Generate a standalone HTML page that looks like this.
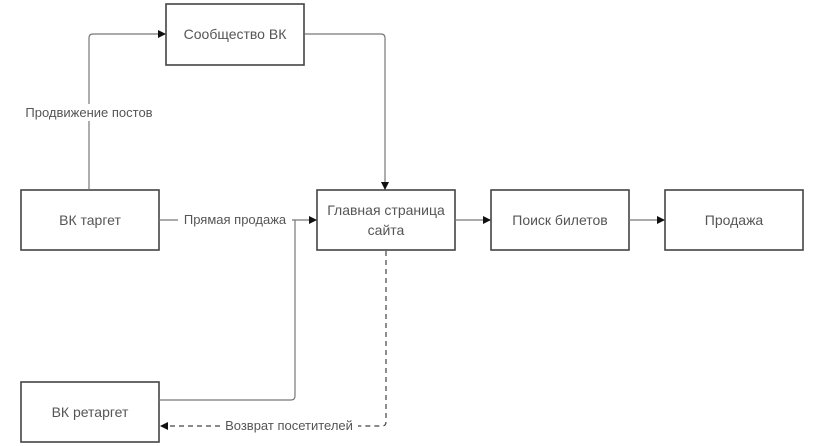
<!DOCTYPE html>
<html><head><meta charset="utf-8"><style>
html,body{margin:0;padding:0;background:#fff;}
svg{display:block;}
text{font-family:"Liberation Sans","DejaVu Sans",sans-serif;fill:#555;}
</style></head><body>
<svg width="822" height="446" viewBox="0 0 822 446" xmlns="http://www.w3.org/2000/svg">
<defs>
<marker id="a" markerWidth="8" markerHeight="8" refX="7" refY="4" orient="auto" markerUnits="userSpaceOnUse">
<path d="M0,0 L8,4 L0,8 Z" fill="#111"/></marker>
</defs>
<g fill="#fff" stroke="#444" stroke-width="1.6">
<rect x="166" y="4" width="138" height="61"/>
<rect x="21" y="190" width="138" height="60"/>
<rect x="317" y="190" width="138" height="60"/>
<rect x="491" y="190" width="138" height="60"/>
<rect x="665" y="190" width="138" height="60"/>
<rect x="21" y="382" width="138" height="60"/>
</g>
<g fill="none" stroke="#777" stroke-width="1.2">
<path d="M89,189 V38 Q89,34 93,34 H165" marker-end="url(#a)"/>
<path d="M305,34 H381 Q385,34 385,38 V189" marker-end="url(#a)"/>
<path d="M159,220 H178"/>
<path d="M292,220 H316" marker-end="url(#a)"/>
<path d="M159,400 H291 Q295,400 295,396 V220"/>
<path d="M455,220 H490" marker-end="url(#a)"/>
<path d="M629,220 H664" marker-end="url(#a)"/>
<path d="M386,251 V422 Q386,426 382,426 H358" stroke="#444" stroke-dasharray="5,4"/>
<path d="M220,426 H161" stroke="#444" stroke-dasharray="5,4" marker-end="url(#a)"/>
</g>
<g font-size="13">
<rect x="20" y="104" width="138" height="17" fill="#fff"/>
<text x="89" y="117" text-anchor="middle">Продвижение постов</text>
<text x="235" y="224" text-anchor="middle">Прямая продажа</text>
<text x="289" y="430" text-anchor="middle">Возврат посетителей</text>
</g>
<g font-size="14" text-anchor="middle">
<text x="235" y="39">Сообщество ВК</text>
<text x="90" y="225">ВК таргет</text>
<text x="386" y="215">Главная страница</text>
<text x="386" y="235">сайта</text>
<text x="560" y="225">Поиск билетов</text>
<text x="734" y="225">Продажа</text>
<text x="90" y="417">ВК ретаргет</text>
</g>
</svg>
</body></html>
